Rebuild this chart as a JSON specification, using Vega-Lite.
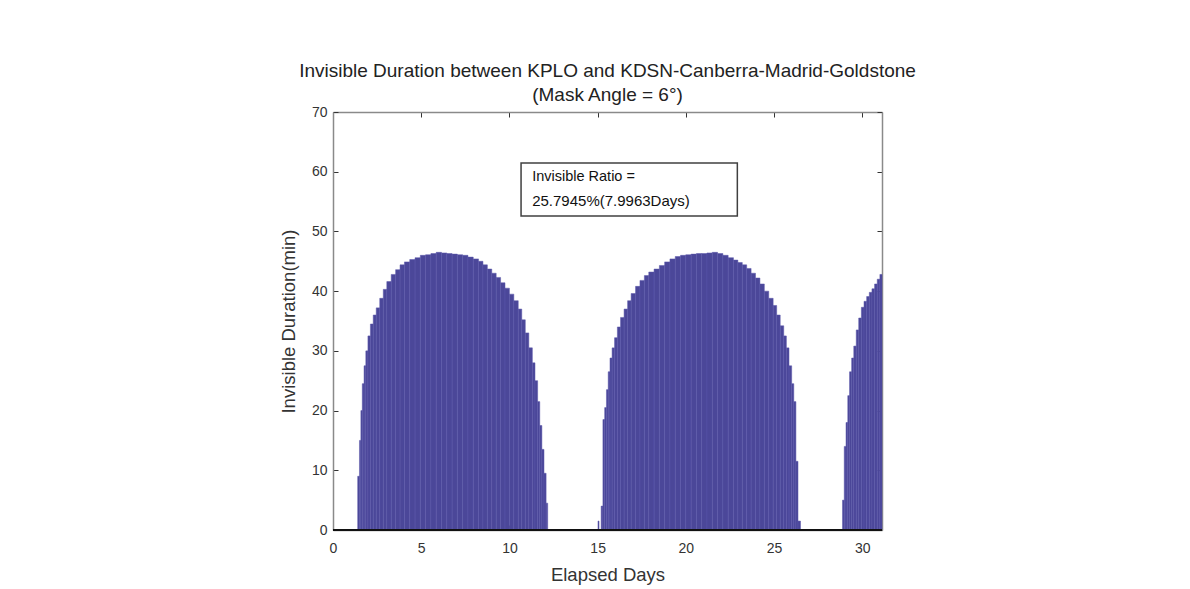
{
  "$schema": "https://vega.github.io/schema/vega-lite/v6.json",
  "width": 549,
  "height": 418,
  "autosize": {"type": "none"},
  "padding": {"left": 333, "top": 112, "right": 308, "bottom": 59},
  "background": "white",
  "config": {
    "font": "Liberation Sans",
    "view": {"stroke": null},
    "axis": {
      "grid": false,
      "labelFlush": false,
      "domainColor": "#8a8a8a",
      "domainWidth": 1.5,
      "tickColor": "#333333",
      "tickSize": -5,
      "labelFont": "Liberation Sans",
      "labelFontSize": 14,
      "labelColor": "#333333",
      "titleFont": "Liberation Sans",
      "titleFontSize": 18.5,
      "titleFontWeight": "normal",
      "titleColor": "#333333"
    }
  },
  "title": {
    "text": ["Invisible Duration between KPLO and KDSN-Canberra-Madrid-Goldstone", "(Mask Angle = 6°)"],
    "fontSize": 19,
    "fontWeight": "normal",
    "font": "Liberation Sans",
    "color": "#222222",
    "lineHeight": 24,
    "anchor": "middle",
    "offset": 0
  },
  "datasets": {
    "bars": [
      {"start": 1.40, "end": 1.50, "dur": 9},
      {"start": 1.50, "end": 1.58, "dur": 15},
      {"start": 1.58, "end": 1.66, "dur": 20},
      {"start": 1.66, "end": 1.76, "dur": 24.5},
      {"start": 1.76, "end": 1.86, "dur": 27.5},
      {"start": 1.86, "end": 1.98, "dur": 30},
      {"start": 1.98, "end": 2.12, "dur": 32.5},
      {"start": 2.12, "end": 2.28, "dur": 34.5},
      {"start": 2.28, "end": 2.45, "dur": 36},
      {"start": 2.45, "end": 2.65, "dur": 37.2},
      {"start": 2.65, "end": 2.85, "dur": 38.8},
      {"start": 2.85, "end": 3.05, "dur": 40.3},
      {"start": 3.05, "end": 3.30, "dur": 41.6},
      {"start": 3.30, "end": 3.55, "dur": 42.8},
      {"start": 3.55, "end": 3.80, "dur": 43.6},
      {"start": 3.80, "end": 4.05, "dur": 44.4},
      {"start": 4.05, "end": 4.35, "dur": 44.9},
      {"start": 4.35, "end": 4.65, "dur": 45.3},
      {"start": 4.65, "end": 4.95, "dur": 45.6},
      {"start": 4.95, "end": 5.25, "dur": 46.0},
      {"start": 5.25, "end": 5.55, "dur": 46.1},
      {"start": 5.55, "end": 5.85, "dur": 46.3},
      {"start": 5.85, "end": 6.15, "dur": 46.5},
      {"start": 6.15, "end": 6.45, "dur": 46.4},
      {"start": 6.45, "end": 6.75, "dur": 46.3},
      {"start": 6.75, "end": 7.05, "dur": 46.2},
      {"start": 7.05, "end": 7.35, "dur": 46.1},
      {"start": 7.35, "end": 7.65, "dur": 46.0},
      {"start": 7.65, "end": 7.95, "dur": 45.7},
      {"start": 7.95, "end": 8.25, "dur": 45.4},
      {"start": 8.25, "end": 8.50, "dur": 45.0},
      {"start": 8.50, "end": 8.75, "dur": 44.4},
      {"start": 8.75, "end": 9.00, "dur": 43.7},
      {"start": 9.00, "end": 9.25, "dur": 43.0},
      {"start": 9.25, "end": 9.50, "dur": 42.3},
      {"start": 9.50, "end": 9.75, "dur": 41.4},
      {"start": 9.75, "end": 10.00, "dur": 40.5},
      {"start": 10.00, "end": 10.25, "dur": 39.5},
      {"start": 10.25, "end": 10.50, "dur": 38.4},
      {"start": 10.50, "end": 10.70, "dur": 37.0},
      {"start": 10.70, "end": 10.90, "dur": 35.2},
      {"start": 10.90, "end": 11.10, "dur": 33.0},
      {"start": 11.10, "end": 11.30, "dur": 30.5},
      {"start": 11.30, "end": 11.45, "dur": 28.0},
      {"start": 11.45, "end": 11.60, "dur": 25.0},
      {"start": 11.60, "end": 11.72, "dur": 21.5},
      {"start": 11.72, "end": 11.84, "dur": 17.5},
      {"start": 11.84, "end": 11.96, "dur": 13.5},
      {"start": 11.96, "end": 12.08, "dur": 9.5},
      {"start": 12.08, "end": 12.17, "dur": 4.5},
      {"start": 15.02, "end": 15.08, "dur": 1.5},
      {"start": 15.20, "end": 15.30, "dur": 4},
      {"start": 15.30, "end": 15.40, "dur": 18.5},
      {"start": 15.40, "end": 15.50, "dur": 20.5},
      {"start": 15.50, "end": 15.60, "dur": 23.5},
      {"start": 15.60, "end": 15.70, "dur": 26.5},
      {"start": 15.70, "end": 15.82, "dur": 28.8},
      {"start": 15.82, "end": 15.96, "dur": 30.5},
      {"start": 15.96, "end": 16.12, "dur": 32.2},
      {"start": 16.12, "end": 16.30, "dur": 34.0},
      {"start": 16.30, "end": 16.50, "dur": 35.6},
      {"start": 16.50, "end": 16.70, "dur": 37.0},
      {"start": 16.70, "end": 16.90, "dur": 38.4},
      {"start": 16.90, "end": 17.15, "dur": 39.6},
      {"start": 17.15, "end": 17.40, "dur": 40.8},
      {"start": 17.40, "end": 17.65, "dur": 41.8},
      {"start": 17.65, "end": 17.90, "dur": 42.6},
      {"start": 17.90, "end": 18.20, "dur": 43.2},
      {"start": 18.20, "end": 18.50, "dur": 43.7},
      {"start": 18.50, "end": 18.80, "dur": 44.3},
      {"start": 18.80, "end": 19.10, "dur": 44.9},
      {"start": 19.10, "end": 19.40, "dur": 45.4},
      {"start": 19.40, "end": 19.70, "dur": 45.8},
      {"start": 19.70, "end": 20.00, "dur": 46.0},
      {"start": 20.00, "end": 20.30, "dur": 46.1},
      {"start": 20.30, "end": 20.60, "dur": 46.2},
      {"start": 20.60, "end": 20.90, "dur": 46.3},
      {"start": 20.90, "end": 21.20, "dur": 46.3},
      {"start": 21.20, "end": 21.50, "dur": 46.4},
      {"start": 21.50, "end": 21.80, "dur": 46.5},
      {"start": 21.80, "end": 22.10, "dur": 46.3},
      {"start": 22.10, "end": 22.40, "dur": 46.0},
      {"start": 22.40, "end": 22.70, "dur": 45.6},
      {"start": 22.70, "end": 22.95, "dur": 45.2},
      {"start": 22.95, "end": 23.20, "dur": 44.8},
      {"start": 23.20, "end": 23.45, "dur": 44.4},
      {"start": 23.45, "end": 23.70, "dur": 43.8},
      {"start": 23.70, "end": 23.95, "dur": 43.0},
      {"start": 23.95, "end": 24.20, "dur": 42.2},
      {"start": 24.20, "end": 24.45, "dur": 41.2},
      {"start": 24.45, "end": 24.70, "dur": 40.0},
      {"start": 24.70, "end": 24.95, "dur": 38.8},
      {"start": 24.95, "end": 25.15, "dur": 37.6},
      {"start": 25.15, "end": 25.35, "dur": 36.0},
      {"start": 25.35, "end": 25.55, "dur": 34.2},
      {"start": 25.55, "end": 25.70, "dur": 32.5},
      {"start": 25.70, "end": 25.85, "dur": 30.5},
      {"start": 25.85, "end": 26.00, "dur": 27.5},
      {"start": 26.00, "end": 26.12, "dur": 24.5},
      {"start": 26.12, "end": 26.24, "dur": 21.5},
      {"start": 26.24, "end": 26.36, "dur": 11.5},
      {"start": 26.36, "end": 26.50, "dur": 1.5},
      {"start": 28.88, "end": 28.98, "dur": 5},
      {"start": 28.98, "end": 29.08, "dur": 14},
      {"start": 29.08, "end": 29.18, "dur": 18},
      {"start": 29.18, "end": 29.28, "dur": 22.5},
      {"start": 29.28, "end": 29.40, "dur": 26.5},
      {"start": 29.40, "end": 29.52, "dur": 28.8},
      {"start": 29.52, "end": 29.66, "dur": 30.8},
      {"start": 29.66, "end": 29.80, "dur": 33.5},
      {"start": 29.80, "end": 29.95, "dur": 35.5},
      {"start": 29.95, "end": 30.10, "dur": 37.3},
      {"start": 30.10, "end": 30.25, "dur": 38.3},
      {"start": 30.25, "end": 30.40, "dur": 39.1},
      {"start": 30.40, "end": 30.55, "dur": 39.8},
      {"start": 30.55, "end": 30.70, "dur": 40.4},
      {"start": 30.70, "end": 30.85, "dur": 41.2},
      {"start": 30.85, "end": 31.00, "dur": 42.0},
      {"start": 31.00, "end": 31.12, "dur": 42.8}
    ],
    "box": [
      {"label": "Invisible Ratio =", "ratio": "25.7945%(7.9963Days)"}
    ]
  },
  "layer": [
    {
      "data": {"name": "bars"},
      "mark": {"type": "bar", "fill": "#4b4799", "stroke": "#5b57aa", "strokeWidth": 0.5},
      "encoding": {
        "x": {
          "field": "start", "type": "quantitative",
          "scale": {"domain": [0, 31.12], "nice": false, "zero": false},
          "axis": {"orient": "bottom", "values": [0, 5, 10, 15, 20, 25, 30], "title": "Elapsed Days", "labelPadding": 16, "titlePadding": 10}
        },
        "x2": {"field": "end"},
        "y": {
          "field": "dur", "type": "quantitative",
          "scale": {"domain": [0, 70], "nice": false},
          "axis": {"orient": "left", "values": [0, 10, 20, 30, 40, 50, 60, 70], "title": "Invisible Duration(min)", "labelPadding": 11, "titlePadding": 13}
        },
        "y2": {"datum": 0}
      }
    },
    {
      "data": {"name": "bars"},
      "mark": {"type": "point", "opacity": 0},
      "encoding": {
        "x": {"field": "start", "type": "quantitative", "axis": {"orient": "top", "values": [0, 5, 10, 15, 20, 25, 30], "labels": false, "title": null}},
        "y": {"field": "dur", "type": "quantitative", "axis": {"orient": "right", "values": [0, 10, 20, 30, 40, 50, 60, 70], "labels": false, "title": null}}
      }
    },
    {
      "data": {"name": "box"},
      "mark": {"type": "rule", "color": "#111111", "strokeWidth": 2},
      "encoding": {
        "x": {"datum": 0, "type": "quantitative", "axis": null},
        "x2": {"datum": 31.12},
        "y": {"datum": 0, "type": "quantitative", "axis": null}
      }
    },
    {
      "data": {"name": "box"},
      "mark": {"type": "rect", "fill": "white", "stroke": "#404040", "strokeWidth": 1.5},
      "encoding": {
        "x": {"datum": 10.66, "type": "quantitative", "axis": null},
        "x2": {"datum": 22.92},
        "y": {"datum": 61.47, "type": "quantitative", "axis": null},
        "y2": {"datum": 52.6}
      }
    },
    {
      "data": {"name": "box"},
      "mark": {"type": "text", "align": "left", "baseline": "middle", "fontSize": 14.5, "font": "Liberation Sans", "color": "#111111"},
      "encoding": {
        "x": {"datum": 11.29, "type": "quantitative", "axis": null},
        "y": {"datum": 59.1, "type": "quantitative", "axis": null},
        "text": {"field": "label"}
      }
    },
    {
      "data": {"name": "box"},
      "mark": {"type": "text", "align": "left", "baseline": "middle", "fontSize": 15, "font": "Liberation Sans", "color": "#111111", "letterSpacing": 0.6},
      "encoding": {
        "x": {"datum": 11.29, "type": "quantitative", "axis": null},
        "y": {"datum": 55.1, "type": "quantitative", "axis": null},
        "text": {"field": "ratio"}
      }
    }
  ],
  "resolve": {"axis": {"x": "independent", "y": "independent"}}
}
